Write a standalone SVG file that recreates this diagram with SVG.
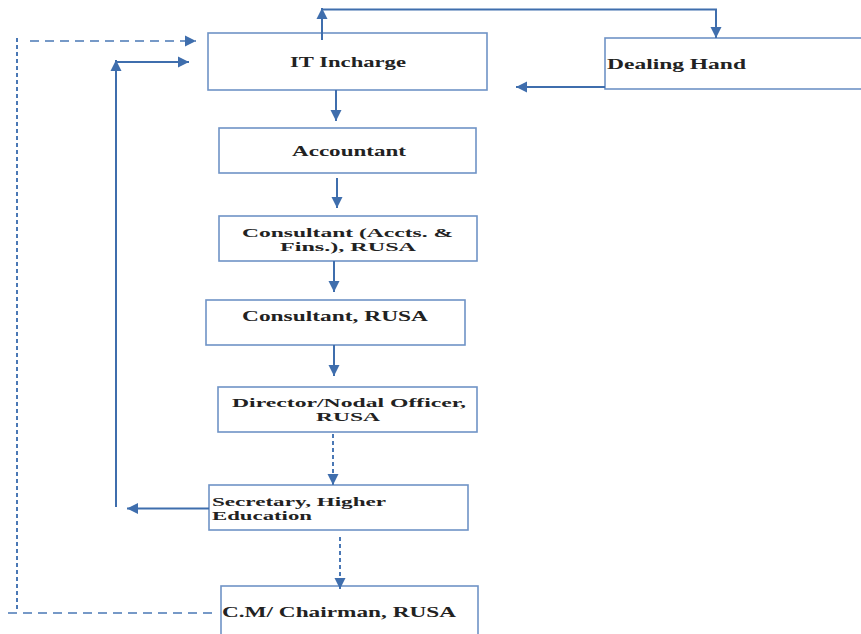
<svg xmlns="http://www.w3.org/2000/svg" width="861" height="634" viewBox="0 0 861 634">
<style>
.box{fill:#fff;stroke:#6f93c6;stroke-width:1.6}
.t{font-family:"Liberation Serif","Times New Roman",serif;font-weight:bold;font-size:15px;fill:#222}
.t2{font-size:13.5px}
.c{fill:none;stroke:#3f6ead;stroke-width:2}
.d{fill:none;stroke:#4a78b5;stroke-width:1.6;stroke-dasharray:9 6}
.dv{fill:none;stroke:#4a78b5;stroke-width:2;stroke-dasharray:4 3}
</style>
<defs>
<marker id="ah" viewBox="0 0 10 10" markerUnits="userSpaceOnUse" markerWidth="11" markerHeight="12" refX="10" refY="5" orient="auto">
<path d="M0,0 L10,5 L0,10 z" fill="#3f6ead"/>
</marker>
</defs>
<rect width="861" height="634" fill="#fff"/>
<g id="it-incharge"><rect class="box" x="208" y="33" width="279" height="57"/><text class="t" x="290" y="67" textLength="116" lengthAdjust="spacingAndGlyphs">IT Incharge</text></g>
<g id="dealing-hand"><rect class="box" x="605" y="38" width="262" height="51"/><text class="t" x="607" y="69" textLength="139" lengthAdjust="spacingAndGlyphs">Dealing Hand</text></g>
<g id="accountant"><rect class="box" x="219" y="128" width="257" height="45"/><text class="t" x="292" y="156" textLength="114" lengthAdjust="spacingAndGlyphs">Accountant</text></g>
<g id="consultant-af"><rect class="box" x="219" y="216" width="258" height="45"/><text class="t t2" x="242" y="237" textLength="211" lengthAdjust="spacingAndGlyphs">Consultant (Accts. &amp;</text><text class="t t2" x="280" y="251" textLength="136" lengthAdjust="spacingAndGlyphs">Fins.), RUSA</text></g>
<g id="consultant"><rect class="box" x="206" y="300" width="259" height="45"/><text class="t" x="242" y="321" textLength="186" lengthAdjust="spacingAndGlyphs">Consultant, RUSA</text></g>
<g id="director"><rect class="box" x="218" y="387" width="259" height="45"/><text class="t t2" x="232" y="407" textLength="234" lengthAdjust="spacingAndGlyphs">Director/Nodal Officer,</text><text class="t t2" x="316" y="421" textLength="64" lengthAdjust="spacingAndGlyphs">RUSA</text></g>
<g id="secretary"><rect class="box" x="209" y="485" width="259" height="45"/><text class="t t2" x="212" y="506" textLength="174" lengthAdjust="spacingAndGlyphs">Secretary, Higher</text><text class="t t2" x="212" y="520" textLength="100" lengthAdjust="spacingAndGlyphs">Education</text></g>
<g id="chairman"><rect class="box" x="221" y="586" width="257" height="60"/><text class="t" x="222" y="617" textLength="234" lengthAdjust="spacingAndGlyphs">C.M/ Chairman, RUSA</text></g>
<g id="connectors">
<line class="c" x1="322" y1="40" x2="322" y2="8" marker-end="url(#ah)"/>
<polyline class="c" points="322,9.5 716,9.5 716,38" marker-end="url(#ah)"/>
<line class="c" x1="605" y1="87" x2="516" y2="87" marker-end="url(#ah)"/>
<line class="c" x1="336" y1="90" x2="336" y2="121" marker-end="url(#ah)"/>
<line class="c" x1="337" y1="178" x2="337" y2="208" marker-end="url(#ah)"/>
<line class="c" x1="334" y1="261" x2="334" y2="292" marker-end="url(#ah)"/>
<line class="c" x1="334" y1="345" x2="334" y2="376" marker-end="url(#ah)"/>
<line class="dv" x1="333" y1="434" x2="333" y2="485" marker-end="url(#ah)"/>
<line class="dv" x1="340" y1="537" x2="340" y2="589" marker-end="url(#ah)"/>
<line class="c" x1="209" y1="508.5" x2="127" y2="508.5" marker-end="url(#ah)"/>
<line class="c" x1="116" y1="507" x2="116" y2="60" marker-end="url(#ah)"/>
<line class="c" x1="115" y1="62" x2="189" y2="62" marker-end="url(#ah)"/>
<line class="d" x1="8" y1="613" x2="214" y2="613"/>
<line class="dv" x1="17" y1="38" x2="17" y2="611"/>
<line class="d" x1="30" y1="41" x2="196" y2="41" marker-end="url(#ah)"/>
</g>
</svg>
